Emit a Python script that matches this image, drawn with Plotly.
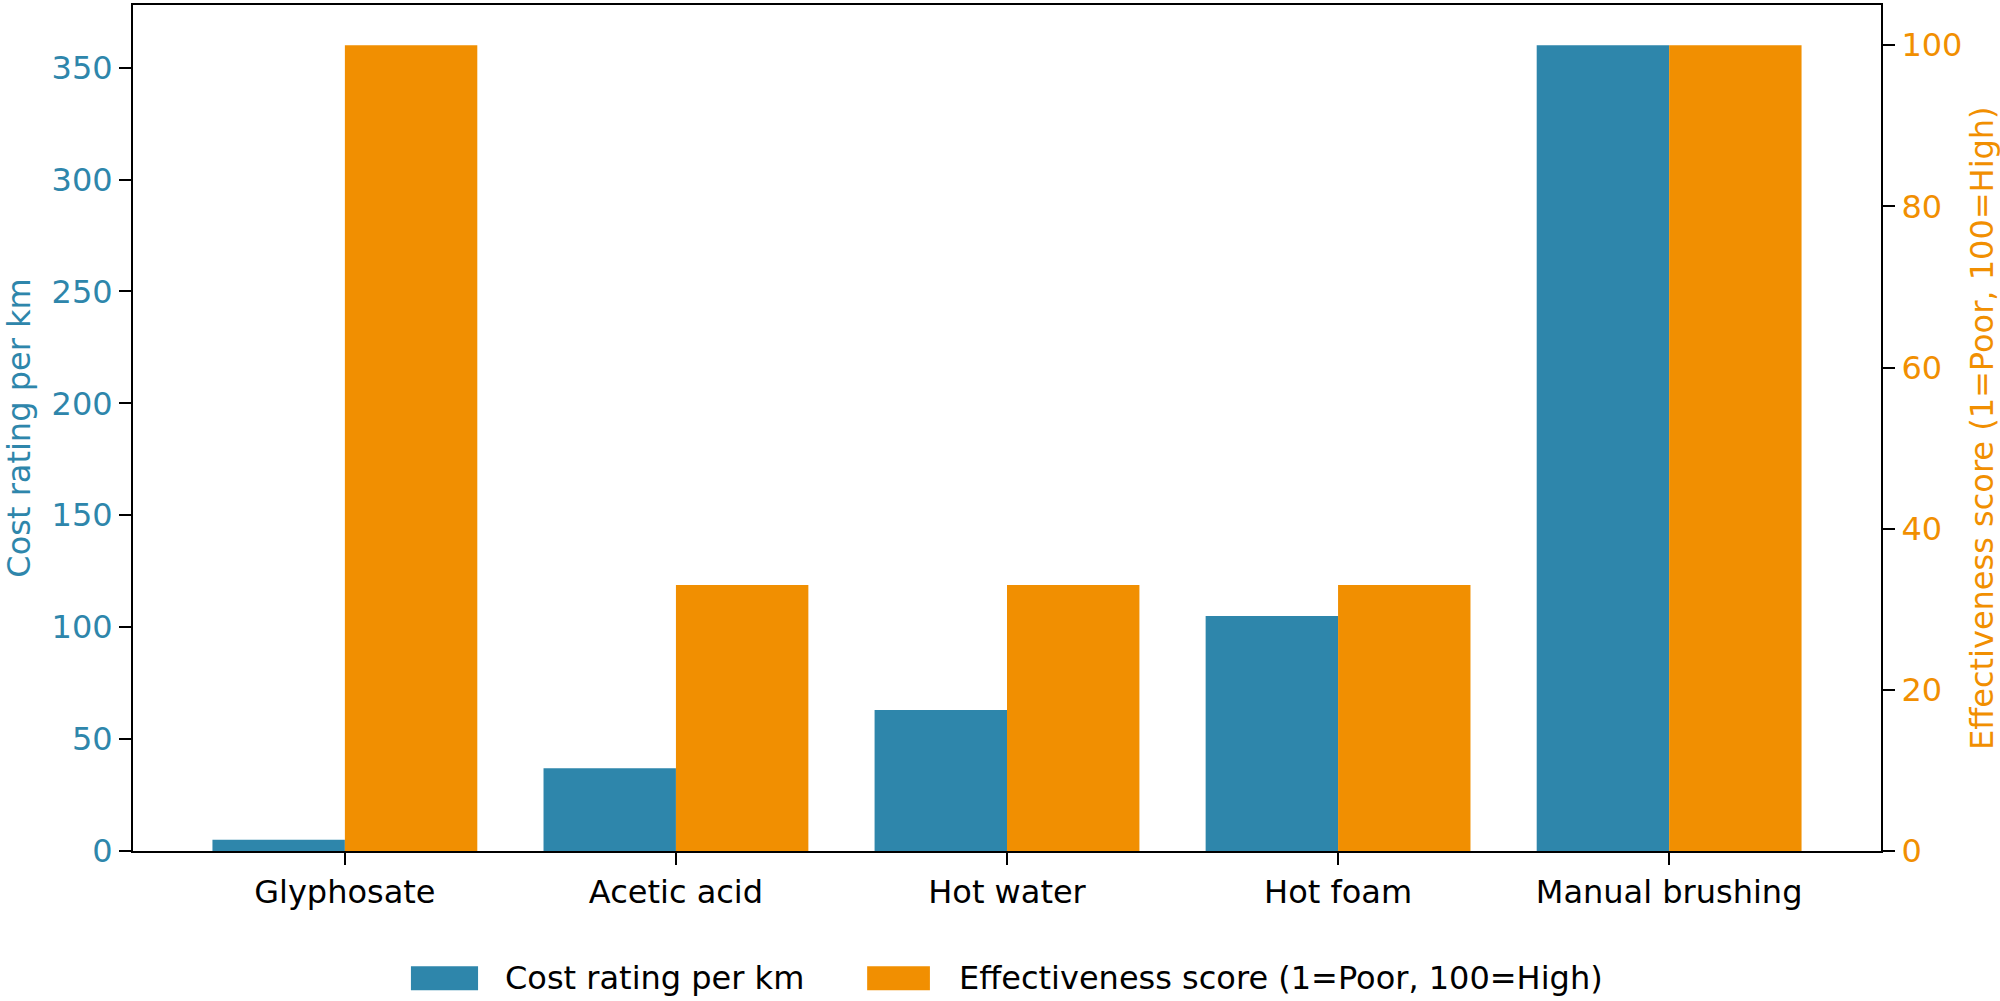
import plotly.graph_objects as go

categories = ["Glyphosate", "Acetic acid", "Hot water", "Hot foam", "Manual brushing"]
cost_values = [5, 37, 63, 105, 360]
effect_values = [100, 33, 33, 33, 100]
cost_name = "Cost rating per km"
effect_name = "Effectiveness score (1=Poor, 100=High)"
left_ticks = [0, 50, 100, 150, 200, 250, 300, 350]
right_ticks = [0, 20, 40, 60, 80, 100]

BLUE = "#2E86AB"
ORANGE = "#F18F01"
FONT = "DejaVu Sans"
FS = 32

fig = go.Figure()
fig.add_trace(go.Bar(x=categories, y=cost_values, name=cost_name, marker_color=BLUE,
                     width=0.4, offset=-0.4, yaxis="y", marker_line_width=0,
                     showlegend=False))
fig.add_trace(go.Bar(x=categories, y=effect_values, name=effect_name, marker_color=ORANGE,
                     width=0.4, offset=0.0, yaxis="y2", marker_line_width=0,
                     showlegend=False))

# Legend drawn as patches + text below the plot
legend_items = [
    (cost_name, BLUE, 0.1590, 0.1974, 0.2117),
    (effect_name, ORANGE, 0.4200, 0.4559, 0.4714),
]
shapes = []
annotations = []
ly = -0.1505
lh = 0.0142
for name, color, x0, x1, xt in legend_items:
    shapes.append(dict(type="rect", xref="paper", yref="paper", x0=x0, x1=x1,
                       y0=ly - lh, y1=ly + lh, fillcolor=color, line=dict(width=0)))
    annotations.append(dict(text=name, xref="paper", yref="paper", x=xt, y=ly,
                            xanchor="left", yanchor="middle", showarrow=False,
                            font=dict(family=FONT, size=FS, color="black")))

# Right axis title
annotations.append(dict(text=effect_name, xref="paper", yref="paper", x=1.0578, y=0.5,
                        xanchor="center", yanchor="middle", textangle=-90, showarrow=False,
                        font=dict(family=FONT, size=FS, color=ORANGE)))

fig.update_layout(
    width=2000, height=1001,
    margin=dict(l=133, r=119, t=5, b=150, autoexpand=False),
    plot_bgcolor="white", paper_bgcolor="white",
    font=dict(family=FONT, size=FS, color="black"),
    barmode="overlay",
    showlegend=False,
    shapes=shapes,
    annotations=annotations,
    xaxis=dict(range=[-0.64, 4.64], showline=True, linecolor="black", linewidth=2,
               mirror=True, ticks="outside", ticklen=12, tickwidth=2, tickcolor="black",
               showgrid=False, zeroline=False, automargin=False,
               tickfont=dict(size=FS, color="black")),
    yaxis=dict(range=[0, 378], tickvals=left_ticks, showline=True, linecolor="black",
               linewidth=2, ticks="outside", ticklen=12, tickwidth=2, tickcolor="black",
               showgrid=False, zeroline=False, automargin=False,
               tickfont=dict(size=FS, color=BLUE),
               title=dict(text=cost_name, font=dict(size=FS, color=BLUE), standoff=14)),
    yaxis2=dict(range=[0, 105], tickvals=right_ticks, overlaying="y", side="right",
                showline=True, linecolor="black", linewidth=2, ticks="outside",
                ticklen=12, tickwidth=2, tickcolor="black", showgrid=False, zeroline=False,
                automargin=False, tickfont=dict(size=FS, color=ORANGE)),
)

fig.write_html("out.html", config={"displayModeBar": False},
               post_script="document.body.style.margin='0';document.body.style.overflow='hidden';")
